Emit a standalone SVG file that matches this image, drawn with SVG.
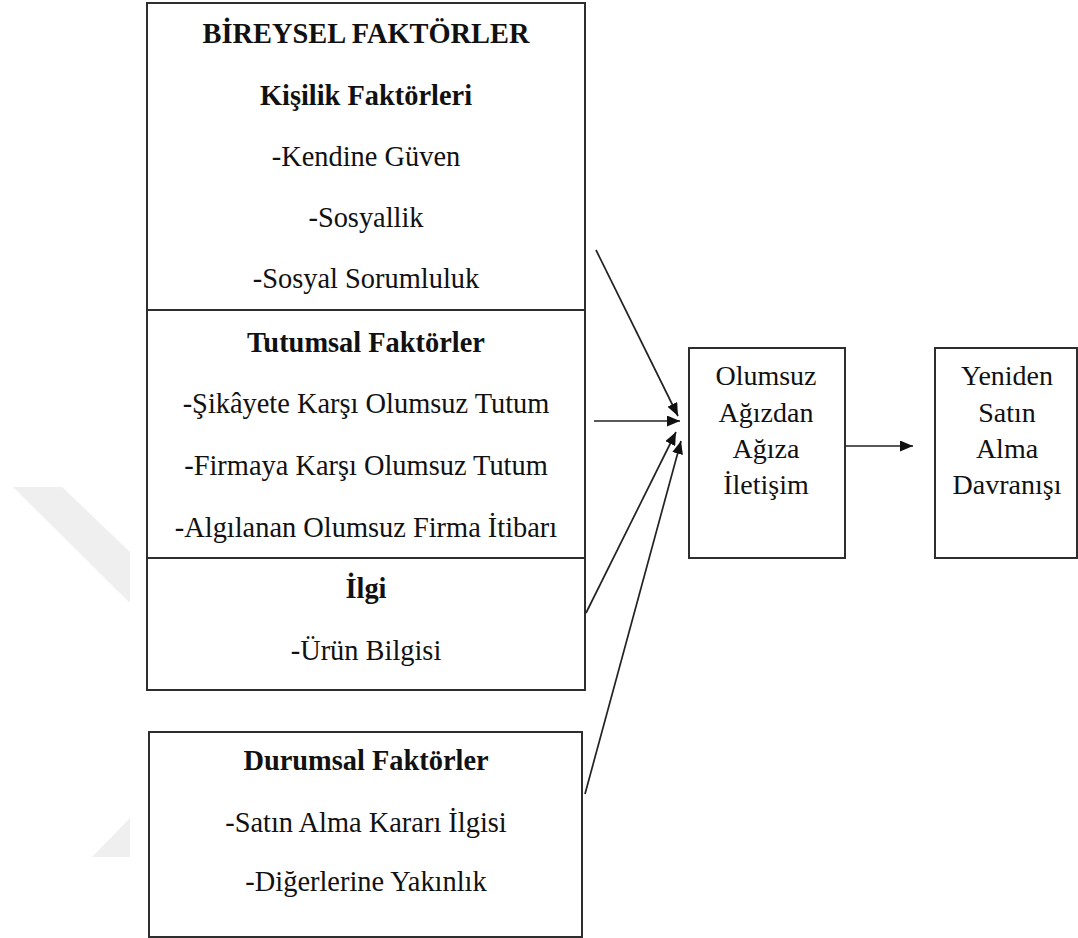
<svg xmlns="http://www.w3.org/2000/svg" width="1078" height="938" viewBox="0 0 1078 938">
<style>
  .box{fill:#fff;stroke:#2e2e2e;stroke-width:2}
  .t{font-family:'Liberation Serif','Times New Roman',serif;font-size:28.4px;fill:#111;text-anchor:middle}
  .r{font-size:28px}
  .b{font-weight:bold}
  .c{stroke:#222;stroke-width:1.7;fill:none}
  .wm{fill:#efefef;stroke:none}
</style>
<defs>
  <marker id="ah" viewBox="0 0 13 11" refX="13" refY="5.5" markerWidth="13" markerHeight="11" markerUnits="userSpaceOnUse" orient="auto">
    <path d="M0,0 L13,5.5 L0,11 Z" fill="#111"/>
  </marker>
</defs>
<rect width="1078" height="938" fill="#fff"/>
<g id="watermark">
  <polygon class="wm" points="13,487 62,487 130,552 130,603"/>
  <polygon class="wm" points="92,857 130,818 130,857"/>
</g>
<g id="kisilik-faktorleri">
  <rect class="box" x="147" y="3" width="438" height="307"/>
  <text class="t b" x="366" y="43">BİREYSEL FAKTÖRLER</text>
  <text class="t b" x="366" y="105">Kişilik Faktörleri</text>
  <text class="t" x="366" y="166">-Kendine Güven</text>
  <text class="t" x="366" y="227">-Sosyallik</text>
  <text class="t" x="366" y="288">-Sosyal Sorumluluk</text>
</g>
<g id="tutumsal-faktorler">
  <rect class="box" x="147" y="310" width="438" height="248"/>
  <text class="t b" x="366" y="352">Tutumsal Faktörler</text>
  <text class="t" x="366" y="413">-Şikâyete Karşı Olumsuz Tutum</text>
  <text class="t" x="366" y="475">-Firmaya Karşı Olumsuz Tutum</text>
  <text class="t" x="366" y="537">-Algılanan Olumsuz Firma İtibarı</text>
</g>
<g id="ilgi">
  <rect class="box" x="147" y="558" width="438" height="132"/>
  <text class="t b" x="366" y="598">İlgi</text>
  <text class="t" x="366" y="660">-Ürün Bilgisi</text>
</g>
<g id="durumsal-faktorler">
  <rect class="box" x="149" y="732" width="433" height="205"/>
  <text class="t b" x="366" y="770">Durumsal Faktörler</text>
  <text class="t" x="366" y="832">-Satın Alma Kararı İlgisi</text>
  <text class="t" x="366" y="891">-Diğerlerine Yakınlık</text>
</g>
<g id="olumsuz-agizdan-agiza-iletisim">
  <rect class="box" x="689" y="348" width="156" height="210"/>
  <text class="t r" x="766" y="385">Olumsuz</text>
  <text class="t r" x="766" y="422">Ağızdan</text>
  <text class="t r" x="766" y="458">Ağıza</text>
  <text class="t r" x="766" y="494">İletişim</text>
</g>
<g id="yeniden-satin-alma-davranisi">
  <rect class="box" x="935" y="348" width="142" height="210"/>
  <text class="t r" x="1007" y="385">Yeniden</text>
  <text class="t r" x="1007" y="422">Satın</text>
  <text class="t r" x="1007" y="458">Alma</text>
  <text class="t r" x="1007" y="494">Davranışı</text>
</g>
<g id="connectors">
  <line class="c" x1="596" y1="250" x2="678" y2="416" marker-end="url(#ah)"/>
  <line class="c" x1="594" y1="421" x2="680" y2="421" marker-end="url(#ah)"/>
  <line class="c" x1="586" y1="613" x2="676" y2="432" marker-end="url(#ah)"/>
  <line class="c" x1="585" y1="794" x2="681" y2="441" marker-end="url(#ah)"/>
  <line class="c" x1="845" y1="446" x2="913" y2="446" marker-end="url(#ah)"/>
</g>
</svg>
